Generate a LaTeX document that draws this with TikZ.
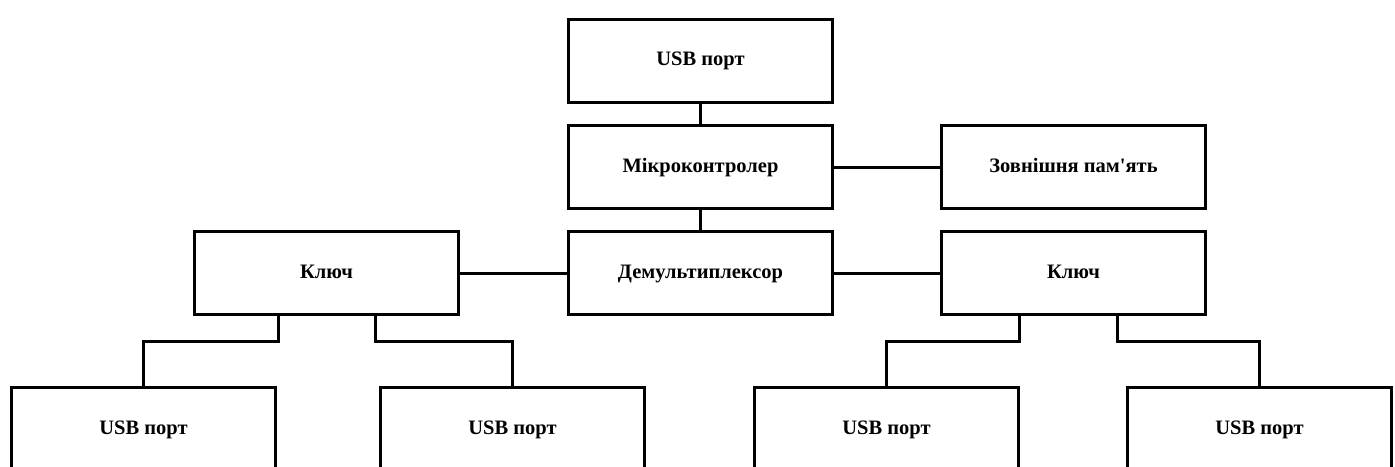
\documentclass[tikz,border=0pt]{standalone}
\usepackage{fontspec}
\setmainfont{Liberation Serif}[Ligatures=TeXOff]
\begin{document}
\begin{tikzpicture}[x=1pt,y=-1pt,
  blk/.style={draw,line width=3pt,minimum width=264pt,minimum height=83pt,inner sep=0pt,
    text height=14pt,text depth=4pt,
    font=\fontsize{20.5}{24}\selectfont\bfseries},
  wire/.style={line width=3pt}]
\useasboundingbox (0,0) rectangle (1395,466);
\node[blk] (usb) at (700.5,60.5) {USB порт};
\node[blk] (mc) at (700.5,167) {Мікроконтролер};
\node[blk] (mem) at (1073.5,167) {Зовнішня пам'ять};
\node[blk] (dm) at (700.5,273) {Демультиплексор};
\node[blk] (kl) at (326.5,273) {Ключ};
\node[blk] (kr) at (1073.5,273) {Ключ};
\node[blk] (p1) at (143.5,429) {USB порт};
\node[blk] (p2) at (512.5,429) {USB порт};
\node[blk] (p3) at (886.5,429) {USB порт};
\node[blk] (p4) at (1259.5,429) {USB порт};
\draw[wire] (usb) -- (mc);
\draw[wire] (mc) -- (dm);
\draw[wire] (mc.east) -- (mem.west);
\draw[wire] (kl.east) -- (dm.west);
\draw[wire] (dm.east) -- (kr.west);
\draw[wire] ([xshift=-48.5pt]kl.south) -- ++(0,25) -| (p1.north);
\draw[wire] ([xshift=48.5pt]kl.south) -- ++(0,25) -| (p2.north);
\draw[wire] ([xshift=-54.5pt]kr.south) -- ++(0,25) -| (p3.north);
\draw[wire] ([xshift=43.5pt]kr.south) -- ++(0,25) -| (p4.north);
\end{tikzpicture}
\end{document}
